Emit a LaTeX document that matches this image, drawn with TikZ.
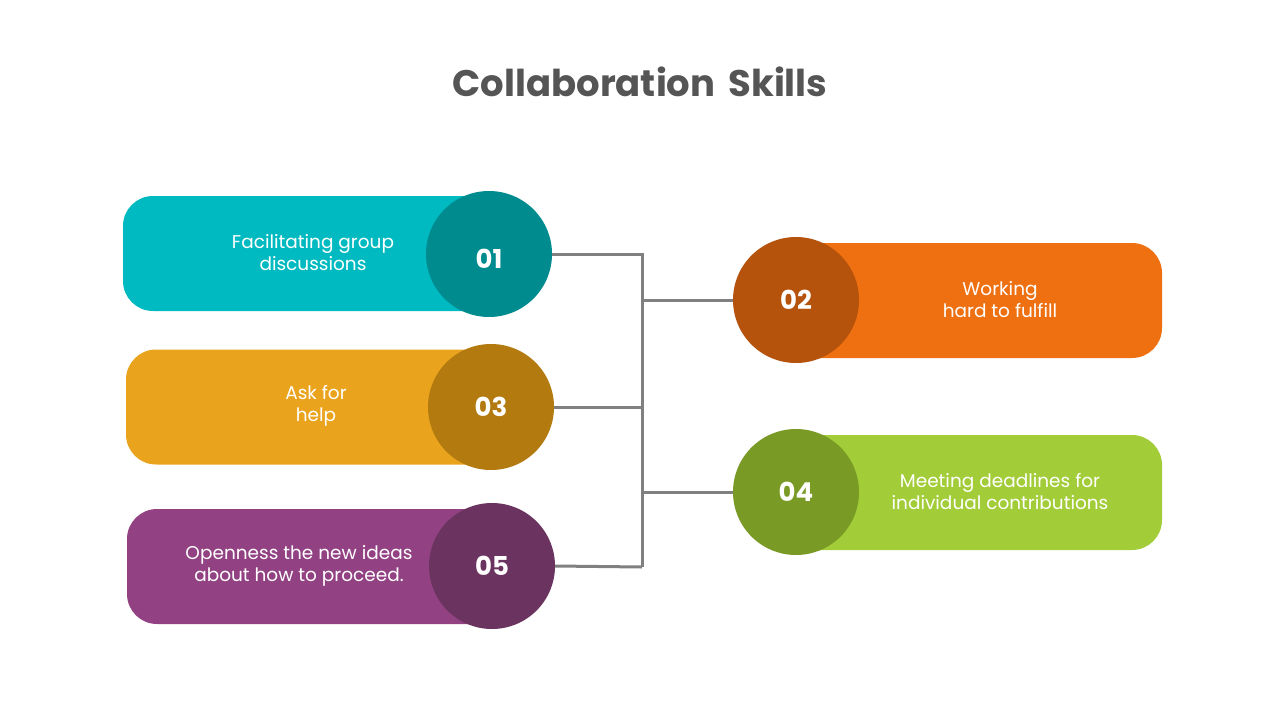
\documentclass[tikz,border=0pt]{standalone}
\usepackage{fontspec}
\setmainfont{Poppins}
\definecolor{titlegray}{HTML}{555555}
\definecolor{linegray}{HTML}{808080}
\definecolor{tealL}{HTML}{00BAC1}
\definecolor{tealD}{HTML}{008B8F}
\definecolor{yelL}{HTML}{E9A31D}
\definecolor{yelD}{HTML}{B37A10}
\definecolor{purL}{HTML}{924283}
\definecolor{purD}{HTML}{6B3460}
\definecolor{oraL}{HTML}{EE7011}
\definecolor{oraD}{HTML}{B5520C}
\definecolor{grnL}{HTML}{A2CC38}
\definecolor{grnD}{HTML}{7A9A26}
\tikzset{
  pill/.style={rectangle, rounded corners=30pt, minimum height=115pt, inner sep=0pt, draw=none},
  numcirc/.style={circle, minimum size=126pt, inner sep=0pt, draw=none, text=white,
     font=\fontsize{26}{30}\selectfont\bfseries},
  numtext/.style={text=white, inner sep=0pt, font=\fontsize{26}{30}\selectfont\bfseries},
  body/.style={text=white, align=center, font=\fontsize{18.5}{22}\selectfont},
  conn/.style={draw=linegray, line width=3pt},
}
\begin{document}
\begin{tikzpicture}[x=1pt,y=-1pt]
\useasboundingbox (0,0) rectangle (1280,720);
\node[text=titlegray, font=\fontsize{37}{42}\selectfont\bfseries] (title) at (640,82) {Collaboration\hspace{0.35em}Skills};
% pills
\node[pill, fill=tealL, minimum width=377pt] (p1) at (311.5,253.5) {};
\node[pill, fill=yelL, minimum width=374pt] (p3) at (313,407) {};
\node[pill, fill=purL, minimum width=373pt] (p5) at (313.5,566.5) {};
\node[pill, fill=oraL, minimum width=382pt] (p2) at (971,300.5) {};
\node[pill, fill=grnL, minimum width=382pt] (p4) at (971,492.5) {};
% circles
\node[numcirc, fill=tealD] (c1) at (489,254) {};
\node[numtext] (n1) at ([yshift=-5pt]c1.center) {01};
\node[numcirc, fill=yelD] (c3) at (491,407) {03};
\node[numcirc, fill=purD] (c5) at (492,566) {05};
\node[numcirc, fill=oraD] (c2) at (796,300) {02};
\node[numcirc, fill=grnD] (c4) at (796,492) {04};
% texts
\node[body] (t1) at (313,253) {Facilitating group\\discussions};
\node[body] (t3) at (316,406) {Ask for\\help};
\node[body] (t5) at (299,566) {Openness the new ideas\\about how to proceed.};
\node[body] (t2) at (1000,300) {Working\\hard to fulfill};
\node[body] (t4) at (1000,492) {Meeting deadlines for\\individual contributions};
% connectors
\coordinate (bot) at (642,567);
\draw[conn] (c1.east) -| (bot);
\draw[conn] (c5.east) -- (bot);
\draw[conn] (c3.east) -- (c3.east -| bot);
\draw[conn] (c2.west) -- (c2.west -| bot);
\draw[conn] (c4.west) -- (c4.west -| bot);
\end{tikzpicture}
\end{document}
